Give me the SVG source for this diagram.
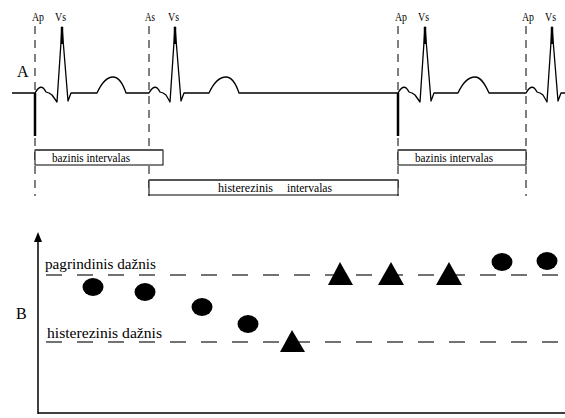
<svg xmlns="http://www.w3.org/2000/svg" width="565" height="418" viewBox="0 0 565 418">
<style>
.t{font-family:"Liberation Serif","Times New Roman",serif;fill:#000}
.ecg{fill:none;stroke:#000;stroke-width:1.3;stroke-linejoin:round}
.spike{stroke:#000;stroke-width:2.5}
.vd{stroke:#000;stroke-width:1;stroke-dasharray:8 6}
.box{fill:#fff;stroke:#000;stroke-width:1}
.boxtop{stroke:#555;stroke-width:2}
.hd{stroke:#444;stroke-width:1.5;stroke-dasharray:16 15}
.ax{stroke:#000;stroke-width:1.5}
</style>
<rect width="565" height="418" fill="#fff"/>
<g id="connectors">
<line class="vd" x1="35" y1="26" x2="35" y2="196"/>
<line class="vd" x1="149" y1="26" x2="149" y2="196"/>
<line class="vd" x1="398" y1="26" x2="398" y2="196"/>
<line class="vd" x1="526" y1="26" x2="526" y2="196"/>
</g>
<g id="ecg">
<path class="ecg" d="M12,93 L35,93 Q41,82 46,92 L49,93 L52,95 L57,102 L62,27 L68,101 L71,93 L97,93 C103,80 109,77 113,77 C119,77 123,84 126,93 L149,93 Q155,82 160,92 L163,93 L166,95 L170,102 L175,27 L181,101 L184,93 L209,93 C215,80 221,77 226,77 C232,77 236,84 239,93 L398,93 Q404,82 409,92 L412,93 L415,95 L420,102 L425,27 L431,101 L434,93 L458,93 C464,80 470,77 475,77 C481,77 485,84 489,93 L526,93 Q532,82 537,92 L540,93 L543,95 L547,102 L552,27 L558,101 L561,93 L565,93"/>
<line class="spike" x1="62" y1="27" x2="62" y2="44"/>
<line class="spike" x1="175" y1="27" x2="175" y2="44"/>
<line class="spike" x1="425" y1="27" x2="425" y2="44"/>
<line class="spike" x1="552" y1="27" x2="552" y2="44"/>
<line class="spike" x1="35" y1="93" x2="35" y2="136"/>
<line class="spike" x1="398" y1="93" x2="398" y2="136"/>
</g>
<g id="labels-top">
<text class="t" x="17" y="77" font-size="16">A</text>
<text class="t" x="32" y="21" font-size="12" textLength="12" lengthAdjust="spacingAndGlyphs">Ap</text>
<text class="t" x="55" y="21" font-size="12" textLength="11" lengthAdjust="spacingAndGlyphs">Vs</text>
<text class="t" x="145" y="21" font-size="12" textLength="10" lengthAdjust="spacingAndGlyphs">As</text>
<text class="t" x="168" y="21" font-size="12" textLength="11" lengthAdjust="spacingAndGlyphs">Vs</text>
<text class="t" x="395" y="21" font-size="12" textLength="12" lengthAdjust="spacingAndGlyphs">Ap</text>
<text class="t" x="418" y="21" font-size="12" textLength="11" lengthAdjust="spacingAndGlyphs">Vs</text>
<text class="t" x="522" y="21" font-size="12" textLength="12" lengthAdjust="spacingAndGlyphs">Ap</text>
<text class="t" x="545" y="21" font-size="12" textLength="11" lengthAdjust="spacingAndGlyphs">Vs</text>
</g>
<g id="interval-bazinis-1">
<rect class="box" x="35" y="150" width="128" height="15"/>
<line class="boxtop" x1="35" y1="150" x2="163" y2="150"/>
<text class="t" x="52" y="161.5" font-size="12" textLength="78" lengthAdjust="spacingAndGlyphs">bazinis intervalas</text>
</g>
<g id="interval-histerezinis">
<rect class="box" x="149" y="180" width="249" height="15"/>
<line class="boxtop" x1="149" y1="180" x2="398" y2="180"/>
<text class="t" x="218" y="191.5" font-size="12" textLength="55" lengthAdjust="spacingAndGlyphs">histerezinis</text>
<text class="t" x="287" y="191.5" font-size="12" textLength="45" lengthAdjust="spacingAndGlyphs">intervalas</text>
</g>
<g id="interval-bazinis-2">
<rect class="box" x="398" y="150" width="128" height="15"/>
<line class="boxtop" x1="398" y1="150" x2="526" y2="150"/>
<text class="t" x="415" y="161.5" font-size="12" textLength="78" lengthAdjust="spacingAndGlyphs">bazinis intervalas</text>
</g>
<g id="chart-b">
<line class="ax" x1="38" y1="240" x2="38" y2="414"/>
<polygon points="38,232 34,242 42,242" fill="#000"/>
<line class="ax" x1="38" y1="413" x2="565" y2="413"/>
<text class="t" x="16" y="319" font-size="16">B</text>
<line class="hd" x1="46" y1="275" x2="565" y2="275"/>
<line class="hd" x1="46" y1="342" x2="565" y2="342"/>
<text class="t" x="45" y="269" font-size="14" textLength="111" lengthAdjust="spacingAndGlyphs">pagrindinis dažnis</text>
<text class="t" x="47" y="338" font-size="14" textLength="115" lengthAdjust="spacingAndGlyphs">histerezinis dažnis</text>
</g>
<g id="points">
<ellipse cx="93" cy="287" rx="10.5" ry="9"/>
<ellipse cx="145" cy="292" rx="10.5" ry="9"/>
<ellipse cx="202" cy="307" rx="10.5" ry="9"/>
<ellipse cx="248" cy="324" rx="10.5" ry="9"/>
<polygon points="292,330 280,352 305,352"/>
<polygon points="340,262 328,285 353,285"/>
<polygon points="391,262 378,285 404,285"/>
<polygon points="449,262 436,285 462,285"/>
<ellipse cx="502" cy="262" rx="10.5" ry="9"/>
<ellipse cx="547" cy="261" rx="10.5" ry="9"/>
</g>
</svg>
